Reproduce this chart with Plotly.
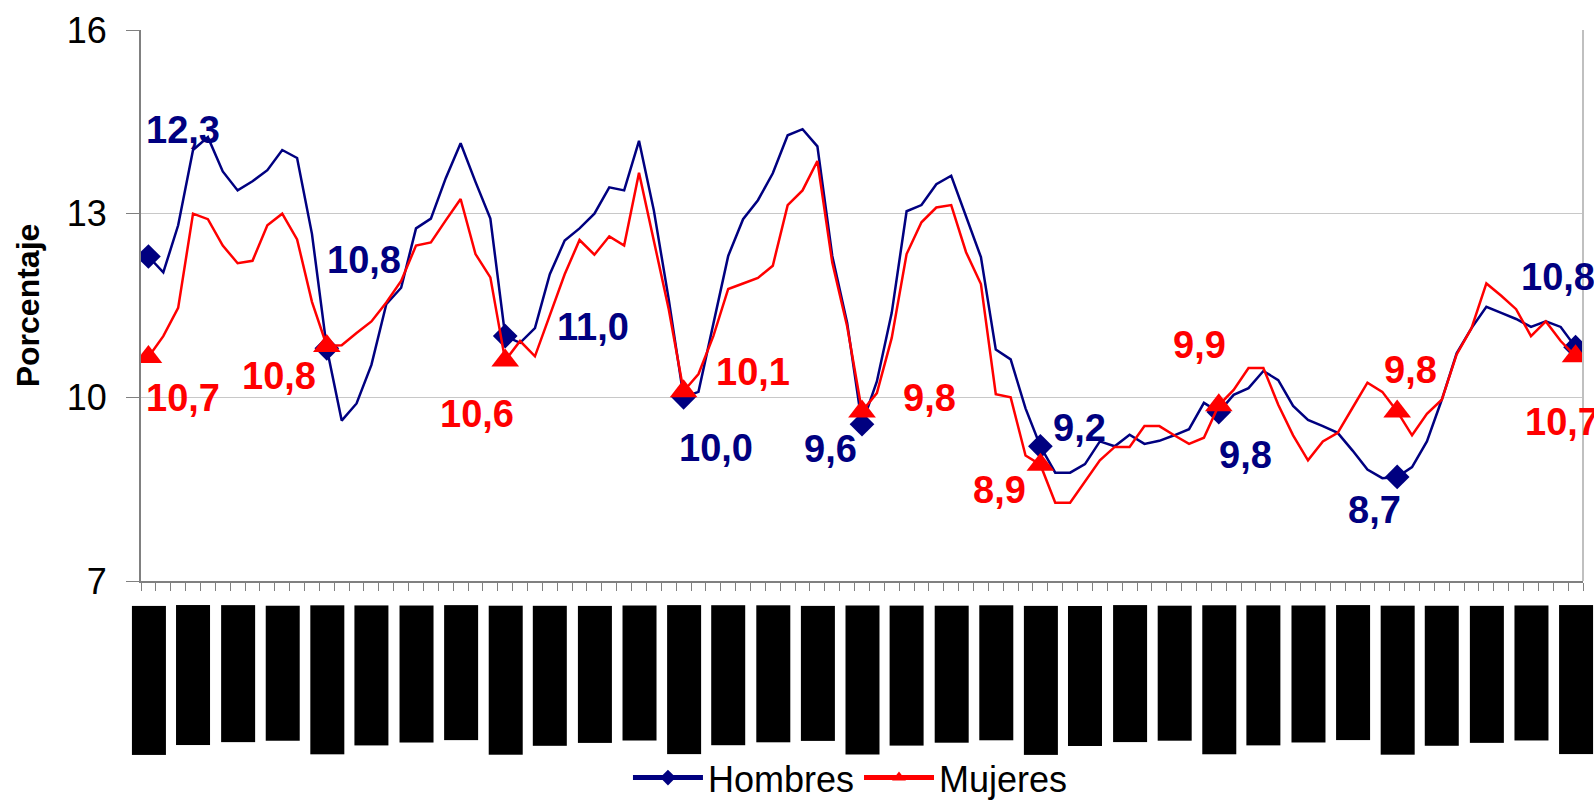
import plotly.graph_objects as go

# ---------------- data ----------------
meses = ["Ene", "Feb", "Mar", "Abr", "May", "Jun", "Jul", "Ago", "Sep", "Oct", "Nov", "Dic"]
periodos = [f"{meses[k % 12]}-{meses[(k + 2) % 12]} {str(1998 + k // 12)[2:]}" for k in range(97)]

hombres = [
    12.3, 12.04, 12.81, 14.04, 14.25, 13.69, 13.38, 13.53, 13.71, 14.04, 13.91, 12.67,
    10.8, 9.62, 9.90, 10.53, 11.52, 11.79, 12.76, 12.92, 13.58, 14.15, 13.52, 12.92,
    11.0, 10.89, 11.13, 12.01, 12.56, 12.76, 13.0, 13.43, 13.38, 14.19, 13.05, 11.6,
    10.0, 10.09, 11.2, 12.31, 12.91, 13.22, 13.66, 14.28, 14.38, 14.10, 12.31, 11.22,
    9.56, 10.26, 11.38, 13.04, 13.14, 13.48, 13.62, 12.95, 12.29, 10.78, 10.62, 9.82,
    9.2, 8.77, 8.77, 8.91, 9.28, 9.20, 9.39, 9.24, 9.29, 9.38, 9.48, 9.91,
    9.76, 10.04, 10.15, 10.43, 10.28, 9.86, 9.63, 9.53, 9.42, 9.13, 8.82, 8.68,
    8.7, 8.86, 9.28, 9.96, 10.72, 11.13, 11.48, 11.38, 11.28, 11.15, 11.24, 11.15,
    10.82,
]

mujeres = [
    10.66, 11.0, 11.46, 13.0, 12.91, 12.48, 12.19, 12.23, 12.81, 13.0, 12.58, 11.56,
    10.84, 10.85, 11.05, 11.24, 11.55, 11.9, 12.48, 12.53, 12.89, 13.24, 12.34, 11.96,
    10.6, 10.92, 10.67, 11.33, 12.01, 12.57, 12.33, 12.63, 12.48, 13.67, 12.53, 11.44,
    10.1, 10.38, 11.0, 11.77, 11.86, 11.95, 12.15, 13.14, 13.38, 13.86, 12.20, 11.16,
    9.77, 10.07, 10.97, 12.34, 12.86, 13.10, 13.14, 12.37, 11.85, 10.05, 10.0, 9.05,
    8.9, 8.28, 8.28, 8.63, 8.97, 9.19, 9.19, 9.53, 9.53, 9.38, 9.24, 9.34,
    9.87, 10.12, 10.48, 10.48, 9.88, 9.38, 8.97, 9.28, 9.42, 9.83, 10.24, 10.09,
    9.77, 9.38, 9.73, 9.96, 10.70, 11.13, 11.86, 11.66, 11.44, 11.0, 11.24, 10.92,
    10.67,
]

y_ticks = [7, 10, 13, 16]

# ---------------- style ----------------
FONT = "Liberation Sans, Arial, sans-serif"
NAVY = "#000080"
RED = "#ff0000"
marcados = list(range(0, 97, 12))          # annual points carrying a marker + label
etiquetas_x = list(range(0, 97, 3))        # every third period gets an axis label

# label offsets in pixels (dx right, dy down) for each marked point
off_h = [(35, -127), (37, -88), (88, -9), (32, 51), (-32, 25), (39, -18), (27, 43), (-23, 33), (-18, -70)]
off_m = [(35, 41), (-48, 30), (-28, 53), (69, -19), (67, -13), (-41, 25), (-19, -60), (13, -41), (-14, 66)]

size_h = [19 if i in marcados else 0 for i in range(len(periodos))]
size_m = [24 if i in marcados else 0 for i in range(len(periodos))]

fig = go.Figure()
fig.add_trace(go.Scatter(
    x=periodos, y=hombres, name="Hombres", mode="lines+markers",
    line=dict(color=NAVY, width=2.5),
    marker=dict(symbol="diamond", size=size_h, color=NAVY, opacity=1, line=dict(width=0)),
))
fig.add_trace(go.Scatter(
    x=periodos, y=mujeres, name="Mujeres", mode="lines+markers",
    line=dict(color=RED, width=2.5),
    marker=dict(symbol="triangle-up", size=size_m, color=RED, opacity=1, line=dict(width=0)),
))

anns = []
for serie, off, col in ((hombres, off_h, NAVY), (mujeres, off_m, RED)):
    for idx, (dx, dy) in zip(marcados, off):
        anns.append(dict(
            x=periodos[idx], y=serie[idx], xref="x", yref="y",
            text=f"{serie[idx]:.1f}".replace(".", ","), showarrow=False,
            xshift=dx, yshift=-dy,
            font=dict(family=FONT, size=38, color=col, weight="bold"),
        ))

# axis labels (shown as solid black blocks, as in the reference)
for idx in etiquetas_x:
    anns.append(dict(
        x=periodos[idx], xref="x", y=0, yref="paper",
        yanchor="top", xanchor="center", yshift=-24,
        text=periodos[idx], textangle=-90, showarrow=False,
        font=dict(family=FONT, size=28, color="black"),
        bgcolor="black", borderpad=1,
    ))

fig.update_layout(
    width=1594, height=805,
    margin=dict(l=141, r=11, t=30, b=224, autoexpand=False),
    paper_bgcolor="white", plot_bgcolor="white",
    font=dict(family=FONT, color="black"),
    showlegend=True,
    legend=dict(
        orientation="h", x=0.492, xanchor="center",
        y=-0.357, yref="paper", yanchor="middle",
        font=dict(size=36, family=FONT, color="black"),
        itemsizing="constant", itemwidth=70,
        bgcolor="rgba(0,0,0,0)",
    ),
    annotations=anns,
    shapes=[dict(type="line", xref="paper", yref="paper", x0=1, x1=1, y0=0, y1=1,
                 line=dict(color="#c0c0c0", width=2))],
)

fig.update_xaxes(
    type="category", range=[-0.5, len(periodos) - 0.5], automargin=False,
    tickmode="array", tickvals=periodos, tickson="boundaries",
    showticklabels=False, ticks="outside", ticklen=8, tickcolor="#808080", tickwidth=1,
    showline=True, linecolor="#808080", linewidth=2, showgrid=False, zeroline=False,
)
fig.update_yaxes(
    range=[7, 16], tickvals=y_ticks, ticktext=[str(v) for v in y_ticks], automargin=False,
    ticks="outside", ticklen=13, tickcolor="#808080", tickwidth=1,
    ticklabelstandoff=12,
    showline=True, linecolor="#808080", linewidth=2,
    showgrid=True, gridcolor="#c8c8c8", gridwidth=1, zeroline=False,
    tickfont=dict(size=36, family=FONT, color="black"),
    title=dict(text="Porcentaje", font=dict(size=32, family=FONT, color="black", weight="bold"), standoff=18),
)

fig.write_html("out.html", config={"displayModeBar": False},
               post_script="document.body.style.margin='0';")
